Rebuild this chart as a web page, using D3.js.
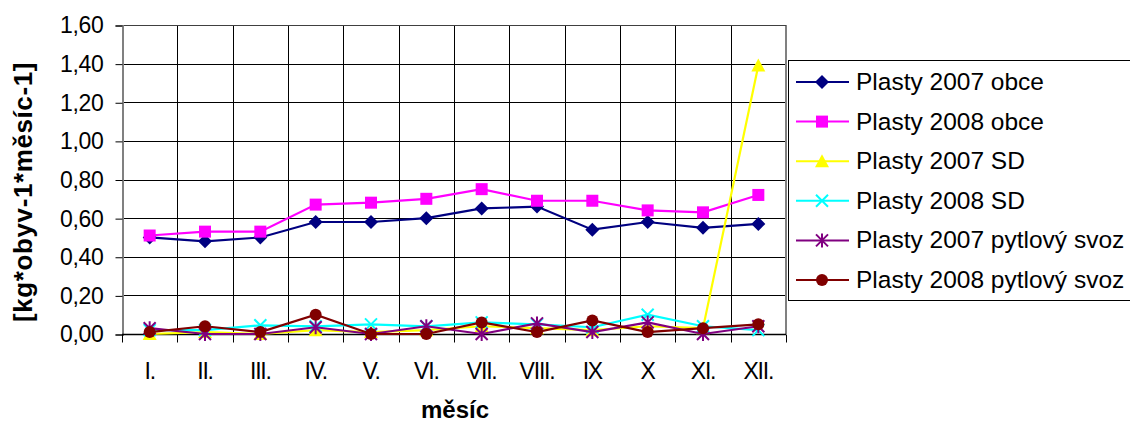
<!DOCTYPE html>
<html>
<head>
<meta charset="utf-8">
<script src="https://cdn.jsdelivr.net/npm/d3@7"></script>
<style>
  html, body { margin: 0; padding: 0; background: #fff; }
  svg { display: block; font-family: "Liberation Sans", Arial, sans-serif; }
</style>
</head>
<body>
<svg id="chart" width="1130" height="424"></svg>
<script>
// Months (Roman numerals) on the category axis
const months = ["I.", "II.", "III.", "IV.", "V.", "VI.", "VII.", "VIII.", "IX", "X", "XI.", "XII."];

// Monthly plastic waste per inhabitant [kg/obyv/měsíc]
const plasty2007Obce   = [0.50, 0.48, 0.50, 0.58, 0.58, 0.60, 0.65, 0.66, 0.54, 0.58, 0.55, 0.57];
const plasty2008Obce   = [0.51, 0.53, 0.53, 0.67, 0.68, 0.70, 0.75, 0.69, 0.69, 0.64, 0.63, 0.72];
const plasty2007SD     = [0.00, 0.01, 0.00, 0.02, 0.01, 0.02, 0.04, 0.03, 0.02, 0.04, 0.03, 1.39];
const plasty2008SD     = [0.02, 0.02, 0.045, 0.04, 0.05, 0.04, 0.06, 0.05, 0.035, 0.10, 0.04, 0.02];
const plasty2007Pytel  = [0.03, 0.00, 0.00, 0.035, 0.00, 0.04, 0.00, 0.055, 0.01, 0.06, 0.00, 0.04];
const plasty2008Pytel  = [0.01, 0.04, 0.01, 0.10, 0.00, 0.00, 0.06, 0.01, 0.07, 0.01, 0.03, 0.05];

const seriesNames = ["Plasty 2007 obce", "Plasty 2008 obce", "Plasty 2007 SD",
                     "Plasty 2008 SD", "Plasty 2007 pytlový svoz", "Plasty 2008 pytlový svoz"];
const yTicks = [0, 0.2, 0.4, 0.6, 0.8, 1.0, 1.2, 1.4, 1.6];

const series = [
  { name: seriesNames[0], values: plasty2007Obce,  color: "#000080", marker: "diamond" },
  { name: seriesNames[1], values: plasty2008Obce,  color: "#FF00FF", marker: "square" },
  { name: seriesNames[2], values: plasty2007SD,    color: "#FFFF00", marker: "triangle" },
  { name: seriesNames[3], values: plasty2008SD,    color: "#00FFFF", marker: "cross" },
  { name: seriesNames[4], values: plasty2007Pytel, color: "#800080", marker: "star" },
  { name: seriesNames[5], values: plasty2008Pytel, color: "#800000", marker: "circle" }
];

const svg = d3.select("#chart");
const plot = { left: 122, right: 786, top: 25, bottom: 334 };

const x = d3.scaleBand().domain(months).range([plot.left, plot.right]).paddingInner(0).paddingOuter(0);
const y = d3.scaleLinear().domain([0, 1.6]).range([plot.bottom, plot.top]);
const cx = m => x(m) + x.bandwidth() / 2;

// Horizontal gridlines
svg.append("g").selectAll("line").data(yTicks.slice(1)).join("line")
  .attr("x1", plot.left).attr("x2", plot.right)
  .attr("y1", d => Math.round(y(d)) + 0.5).attr("y2", d => Math.round(y(d)) + 0.5)
  .attr("stroke", "#000").attr("stroke-width", 1);

// Vertical gridlines at category boundaries
svg.append("g").selectAll("line").data(months.slice(1)).join("line")
  .attr("x1", d => Math.round(x(d)) + 0.5).attr("x2", d => Math.round(x(d)) + 0.5)
  .attr("y1", plot.top).attr("y2", plot.bottom)
  .attr("stroke", "#000").attr("stroke-width", 1);

// Plot frame (left and right edges grey)
svg.append("line").attr("x1", plot.right).attr("x2", plot.right)
  .attr("y1", plot.top).attr("y2", plot.bottom).attr("stroke", "#808080").attr("stroke-width", 2);
svg.append("line").attr("x1", plot.left).attr("x2", plot.right)
  .attr("y1", plot.top + 0.5).attr("y2", plot.top + 0.5).attr("stroke", "#404040").attr("stroke-width", 1);

// Y axis
const yAxis = d3.axisLeft(y).tickValues(yTicks).tickSize(7).tickPadding(12)
  .tickFormat(d => d3.format(".2f")(d).replace(".", ","));
const gy = svg.append("g").attr("transform", `translate(${plot.left + 0.5},0.5)`).call(yAxis);
gy.select(".domain").attr("stroke", "#808080").attr("stroke-width", 2);
gy.selectAll(".tick line").attr("stroke", "#000");
gy.selectAll(".tick text").attr("font-size", 23).attr("fill", "#000")
  .attr("font-family", "Liberation Sans, Arial, sans-serif").attr("letter-spacing", -0.3);

// X axis: ticks at category boundaries, labels centered
const gx = svg.append("g").attr("transform", `translate(0,${plot.bottom + 0.5})`);
gx.append("line").attr("x1", plot.left).attr("x2", plot.right).attr("stroke", "#000").attr("stroke-width", 1.5);
const boundaries = months.map(m => x(m)).concat([plot.right]);
gx.selectAll("line.tk").data(boundaries).join("line").attr("class", "tk")
  .attr("x1", d => Math.round(d) + 0.5).attr("x2", d => Math.round(d) + 0.5)
  .attr("y1", 0).attr("y2", 8).attr("stroke", "#000");
gx.selectAll("text").data(months).join("text")
  .attr("x", d => cx(d)).attr("y", 378 - plot.bottom)
  .attr("text-anchor", "middle").attr("font-size", 23).attr("fill", "#000")
  .attr("letter-spacing", -1.2)
  .text(d => d);

// Axis titles
svg.append("text")
  .attr("transform", "translate(31.5,192) rotate(-90)")
  .attr("text-anchor", "middle").attr("font-size", 26).attr("font-weight", "bold")
  .attr("letter-spacing", 0.6)
  .text("[kg*obyv-1*měsíc-1]");
svg.append("text")
  .attr("x", 455).attr("y", 418)
  .attr("text-anchor", "middle").attr("font-size", 24).attr("font-weight", "bold")
  .text("měsíc");

// Marker drawing
function drawMarker(g, type, color) {
  switch (type) {
    case "diamond":
      g.append("path").attr("d", "M0,-7L7,0L0,7L-7,0Z").attr("fill", color);
      break;
    case "square":
      g.append("rect").attr("x", -6).attr("y", -6).attr("width", 12).attr("height", 12).attr("fill", color);
      break;
    case "triangle":
      g.append("path").attr("d", "M0,-7L7,6L-7,6Z").attr("fill", color);
      break;
    case "cross":
      g.append("path").attr("d", "M-6,-6L6,6M-6,6L6,-6").attr("stroke", color).attr("stroke-width", 2);
      break;
    case "star":
      g.append("path").attr("d", "M-6,-6L6,6M-6,6L6,-6M0,-7L0,7").attr("stroke", color).attr("stroke-width", 2);
      break;
    case "circle":
      g.append("circle").attr("r", 6).attr("fill", color);
      break;
  }
}

const line = d3.line().x((d, i) => cx(months[i])).y(d => y(d));

series.forEach(s => {
  const g = svg.append("g");
  g.append("path").datum(s.values).attr("d", line)
    .attr("fill", "none").attr("stroke", s.color).attr("stroke-width", 2.2);
  s.values.forEach((v, i) => {
    const mg = g.append("g").attr("transform", `translate(${cx(months[i])},${y(v)})`);
    drawMarker(mg, s.marker, s.color);
  });
});

// Legend
const legend = svg.append("g");
legend.append("rect").attr("x", 788.5).attr("y", 60.5).attr("width", 345).attr("height", 240)
  .attr("fill", "#fff").attr("stroke", "#000").attr("stroke-width", 1);
series.forEach((s, i) => {
  const ly = 82 + i * 39.6;
  const g = legend.append("g");
  g.append("line").attr("x1", 796).attr("x2", 849).attr("y1", ly).attr("y2", ly)
    .attr("stroke", s.color).attr("stroke-width", 2);
  const mg = g.append("g").attr("transform", `translate(822,${ly})`);
  drawMarker(mg, s.marker, s.color);
  g.append("text").attr("x", 856).attr("y", ly + 8)
    .attr("font-size", 24.5).attr("fill", "#000")
    .text(s.name);
});
</script>
</body>
</html>
